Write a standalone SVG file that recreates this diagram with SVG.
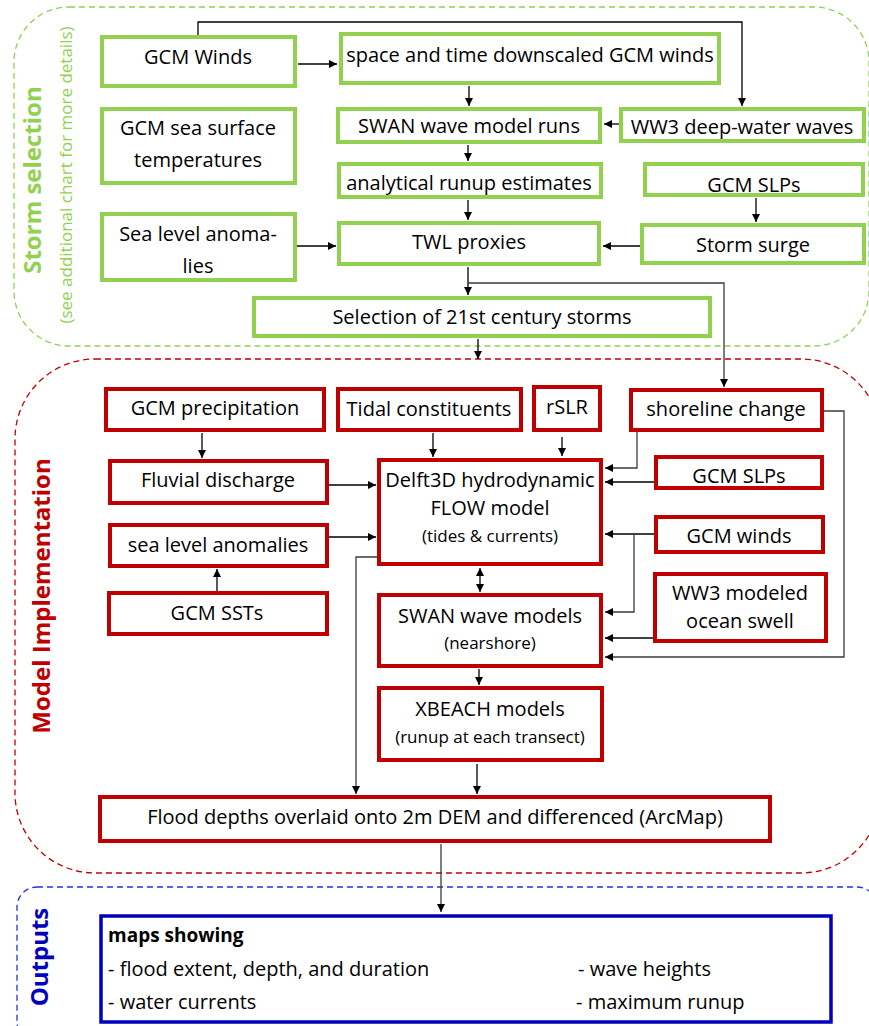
<svg xmlns="http://www.w3.org/2000/svg" width="869" height="1026" viewBox="0 0 869 1026">
<style>
text{font-family:"Open Sans","Liberation Sans",sans-serif;fill:#000;}
.t{font-size:20px;text-anchor:middle;}
.s{font-size:17px;text-anchor:middle;}
.g{fill:#fff;stroke:#92D050;stroke-width:4;}
.r{fill:#fff;stroke:#C00000;stroke-width:4;}
.b{fill:#fff;stroke:#0000BF;stroke-width:3.5;}
.c{fill:none;stroke:#000;stroke-width:1.3;}
.c2{fill:none;stroke:#3a3a3a;stroke-width:1.3;}
.a{marker-end:url(#ah);}
.lbl{font-weight:bold;font-size:24px;text-anchor:middle;}
</style>
<defs>
<marker id="ah" viewBox="0 0 8 8" refX="8" refY="4" markerWidth="8" markerHeight="8" markerUnits="userSpaceOnUse" orient="auto-start-reverse"><path d="M0,0 L8,4 L0,8 z" fill="#000"/></marker>
</defs>
<g id="containers">
<rect x="14" y="7" width="855" height="339" rx="55" fill="none" stroke="#92D050" stroke-width="1.3" stroke-dasharray="6 4"/>
<rect x="15" y="359" width="866" height="514" rx="80" fill="none" stroke="#C00000" stroke-width="1.3" stroke-dasharray="6 4"/>
<rect x="17" y="887" width="860" height="155" rx="20" fill="none" stroke="#2233DD" stroke-width="1.3" stroke-dasharray="6 4"/>
<text class="lbl" transform="translate(41,180) rotate(-90)" fill="#92D050" style="fill:#92D050">Storm selection</text>
<text transform="translate(72,175) rotate(-90)" style="fill:#92D050;font-size:17px;text-anchor:middle">(see additional chart for more details)</text>
<text class="lbl" transform="translate(50,596) rotate(-90)" style="fill:#C00000">Model Implementation</text>
<text class="lbl" transform="translate(48,957) rotate(-90)" style="fill:#0000BF">Outputs</text>
</g>
<g id="connectors">
<path class="c a" d="M198,35 V22 H742 V106"/>
<path class="c a" d="M298,64 H337"/>
<path class="c a" d="M469,86 V106"/>
<path class="c a" d="M619,124 H604"/>
<path class="c a" d="M468,145 V161"/>
<path class="c a" d="M468,200 V220"/>
<path class="c a" d="M756,198 V222"/>
<path class="c a" d="M640,246 H603"/>
<path class="c a" d="M297,246 H336"/>
<path class="c a" d="M468,267 V295"/>
<path class="c2 a" d="M468,283 H724 V387"/>
<path class="c a" d="M478,339 V359"/>
<path class="c a" d="M202,433 V458"/>
<path class="c a" d="M433,433 V457"/>
<path class="c a" d="M562,437 V456"/>
<path class="c2 a" d="M637,432 V468 H605"/>
<path class="c a" d="M654,482 H605"/>
<path class="c a" d="M654,534 H605"/>
<path class="c2 a" d="M634,534 V612 H605"/>
<path class="c a" d="M653,638 H605"/>
<path class="c2 a" d="M824,411 H844 V657 H605"/>
<path class="c a" d="M329,485 H376"/>
<path class="c a" d="M329,537 H376"/>
<path class="c a" d="M217,591 V569"/>
<path class="c a" d="M480,568 V592" marker-start="url(#ah)"/>
<path class="c a" d="M479,669 V685"/>
<path class="c a" d="M477,764 V794"/>
<path class="c2 a" d="M377,557 H356 V794"/>
<path class="c2 a" d="M441,844 V912"/>
</g>
<g id="n-gcm-winds"><rect class="g" x="102" y="37" width="193" height="49"/><text class="t" x="198" y="64">GCM Winds</text></g>
<g id="n-downscaled"><rect class="g" x="341" y="34" width="378" height="49"/><text class="t" x="530" y="62">space and time downscaled GCM winds</text></g>
<g id="n-gcm-sst"><rect class="g" x="102" y="109" width="193" height="74"/><text class="t" x="198" y="135">GCM sea surface</text><text class="t" x="198" y="167">temperatures</text></g>
<g id="n-swan-runs"><rect class="g" x="338" y="109" width="262" height="33"/><text class="t" x="469" y="133">SWAN wave model runs</text></g>
<g id="n-ww3-deep"><rect class="g" x="621" y="109" width="243" height="32"/><text class="t" x="742" y="134">WW3 deep-water waves</text></g>
<g id="n-analytical"><rect class="g" x="339" y="164" width="262" height="33"/><text class="t" x="469" y="190">analytical runup estimates</text></g>
<g id="n-gcm-slps-g"><rect class="g" x="645" y="164" width="218" height="31"/><text class="t" x="754" y="192">GCM SLPs</text></g>
<g id="n-sla-g"><rect class="g" x="102" y="214" width="193" height="66"/><text class="t" x="198" y="241">Sea level anoma-</text><text class="t" x="198" y="273">lies</text></g>
<g id="n-twl"><rect class="g" x="339" y="223" width="260" height="41"/><text class="t" x="469" y="249">TWL proxies</text></g>
<g id="n-surge"><rect class="g" x="642" y="225" width="222" height="38"/><text class="t" x="753" y="252">Storm surge</text></g>
<g id="n-selection"><rect class="g" x="254" y="298" width="456" height="38"/><text class="t" x="482" y="324">Selection of 21st century storms</text></g>
<g id="n-precip"><rect class="r" x="106" y="389" width="218" height="41"/><text class="t" x="215" y="415">GCM precipitation</text></g>
<g id="n-tidal"><rect class="r" x="338" y="389" width="183" height="41"/><text class="t" x="429" y="416">Tidal constituents</text></g>
<g id="n-rslr"><rect class="r" x="534" y="387" width="66" height="43"/><text class="t" x="567" y="414">rSLR</text></g>
<g id="n-shoreline"><rect class="r" x="631" y="390" width="191" height="40"/><text class="t" x="726" y="416">shoreline change</text></g>
<g id="n-fluvial"><rect class="r" x="110" y="461" width="217" height="42"/><text class="t" x="218" y="487">Fluvial discharge</text></g>
<g id="n-delft"><rect class="r" x="379" y="460" width="222" height="104"/><text class="t" x="490" y="487">Delft3D hydrodynamic</text><text class="t" x="490" y="515">FLOW model</text><text class="s" x="490" y="542">(tides &amp; currents)</text></g>
<g id="n-gcm-slps-r"><rect class="r" x="656" y="457" width="166" height="31"/><text class="t" x="739" y="483">GCM SLPs</text></g>
<g id="n-sla-r"><rect class="r" x="110" y="525" width="217" height="41"/><text class="t" x="218" y="552">sea level anomalies</text></g>
<g id="n-gcm-winds-r"><rect class="r" x="656" y="517" width="167" height="35"/><text class="t" x="739" y="543">GCM winds</text></g>
<g id="n-gcm-ssts"><rect class="r" x="109" y="593" width="218" height="41"/><text class="t" x="217" y="620">GCM SSTs</text></g>
<g id="n-swan-models"><rect class="r" x="379" y="595" width="222" height="71"/><text class="t" x="490" y="623">SWAN wave models</text><text class="s" x="490" y="649">(nearshore)</text></g>
<g id="n-ww3-swell"><rect class="r" x="655" y="574" width="171" height="67"/><text class="t" x="740" y="600">WW3 modeled</text><text class="t" x="740" y="628">ocean swell</text></g>
<g id="n-xbeach"><rect class="r" x="379" y="688" width="223" height="72"/><text class="t" x="490" y="716">XBEACH models</text><text class="s" x="490" y="743">(runup at each transect)</text></g>
<g id="n-flood"><rect class="r" x="100" y="797" width="670" height="44"/><text class="t" x="435" y="824">Flood depths overlaid onto 2m DEM and differenced (ArcMap)</text></g>
<g id="n-outputs"><rect class="b" x="101" y="916" width="730" height="106"/>
<text x="108" y="942" style="font-weight:bold;font-size:19px">maps showing</text>
<text x="108" y="976" style="font-size:20px">- flood extent, depth, and duration</text>
<text x="108" y="1009" style="font-size:20px">- water currents</text>
<text x="578" y="976" style="font-size:20px">- wave heights</text>
<text x="576" y="1009" style="font-size:20px">- maximum runup</text>
</g>
</svg>
